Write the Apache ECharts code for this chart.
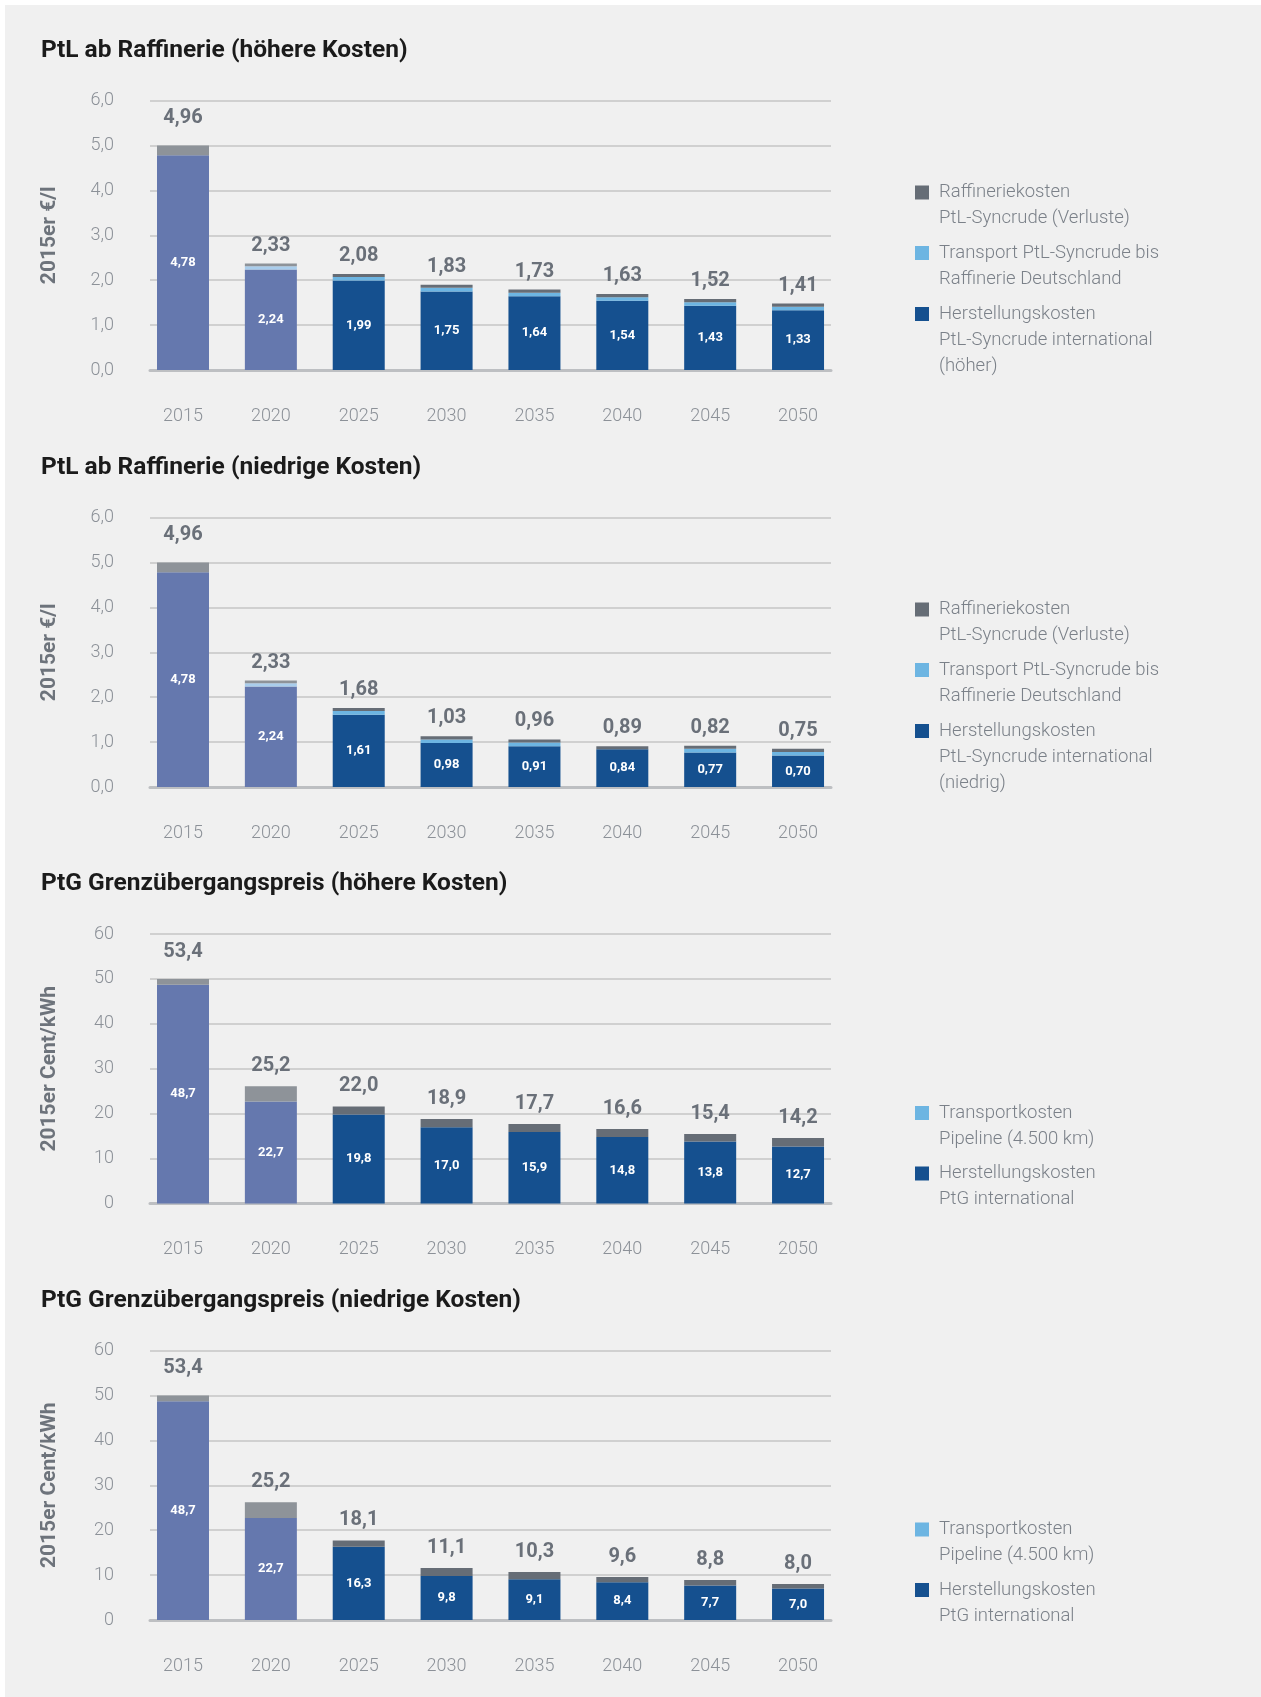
<!DOCTYPE html>
<html>
<head>
<meta charset="utf-8">
<script src="https://cdn.jsdelivr.net/npm/echarts@6/dist/echarts.min.js"></script>
<style>
html,body{margin:0;padding:0;background:#ffffff;}
#bg{position:absolute;left:5px;top:5px;width:1256px;height:1692px;background:#f0f0f0;}
#chart{position:absolute;left:0;top:0;width:1261px;height:1697px;}
</style>
</head>
<body>
<div id="bg"></div>
<div id="chart"></div>
<script>
// ---------- DATA ----------
const years = ['2015', '2020', '2025', '2030', '2035', '2040', '2045', '2050'];

// Chart 1: PtL ab Raffinerie (höhere Kosten), 2015er €/l
const ptlHighBase      = [4.78, 2.24, 1.99, 1.75, 1.64, 1.54, 1.43, 1.33];
const ptlHighTransport = [0.00, 0.07, 0.08, 0.08, 0.08, 0.08, 0.08, 0.08];
const ptlHighRefinery  = [0.22, 0.06, 0.07, 0.07, 0.07, 0.07, 0.07, 0.07];
const ptlHighTotal     = [4.96, 2.33, 2.08, 1.83, 1.73, 1.63, 1.52, 1.41];

// Chart 2: PtL ab Raffinerie (niedrige Kosten), 2015er €/l
const ptlLowBase      = [4.78, 2.24, 1.61, 0.98, 0.91, 0.84, 0.77, 0.70];
const ptlLowTransport = [0.00, 0.07, 0.08, 0.08, 0.08, 0.00, 0.08, 0.08];
const ptlLowRefinery  = [0.22, 0.06, 0.07, 0.07, 0.07, 0.07, 0.07, 0.07];
const ptlLowTotal     = [4.96, 2.33, 1.68, 1.03, 0.96, 0.89, 0.82, 0.75];

// Chart 3: PtG Grenzübergangspreis (höhere Kosten), 2015er Cent/kWh
const ptgHighBase      = [48.7, 22.7, 19.8, 17.0, 15.9, 14.8, 13.8, 12.7];
const ptgHighTransport = [1.3, 3.4, 1.8, 1.8, 1.8, 1.8, 1.7, 1.9];
const ptgHighTotal     = [53.4, 25.2, 22.0, 18.9, 17.7, 16.6, 15.4, 14.2];

// Chart 4: PtG Grenzübergangspreis (niedrige Kosten), 2015er Cent/kWh
const ptgLowBase      = [48.7, 22.7, 16.3, 9.8, 9.1, 8.4, 7.7, 7.0];
const ptgLowTransport = [1.3, 3.5, 1.4, 1.8, 1.6, 1.2, 1.2, 1.0];
const ptgLowTotal     = [53.4, 25.2, 18.1, 11.1, 10.3, 9.6, 8.8, 8.0];

const titles = [
  'PtL ab Raffinerie (höhere Kosten)',
  'PtL ab Raffinerie (niedrige Kosten)',
  'PtG Grenzübergangspreis (höhere Kosten)',
  'PtG Grenzübergangspreis (niedrige Kosten)'
];
const yNames = ['2015er €/l', '2015er €/l', '2015er Cent/kWh', '2015er Cent/kWh'];

const legendPtlHigh = [
  ['Raffineriekosten', 'PtL-Syncrude (Verluste)'],
  ['Transport PtL-Syncrude bis', 'Raffinerie Deutschland'],
  ['Herstellungskosten', 'PtL-Syncrude international', '(höher)']
];
const legendPtlLow = [
  ['Raffineriekosten', 'PtL-Syncrude (Verluste)'],
  ['Transport PtL-Syncrude bis', 'Raffinerie Deutschland'],
  ['Herstellungskosten', 'PtL-Syncrude international', '(niedrig)']
];
const legendPtg = [
  ['Transportkosten', 'Pipeline (4.500 km)'],
  ['Herstellungskosten', 'PtG international']
];

// ---------- STYLE ----------
const C = {
  baseOld: '#6578ae', baseNew: '#15508f',
  transOld: '#a9cdec', transNew: '#6db5e2',
  refOld: '#8e9399', refNew: '#666d76',
  grid: '#d0d0d0', axis: '#bdbfc2', tick: '#8c9198',
  total: '#6a7079', legend: '#7b8189', yname: '#6d737b', title: '#1b1b1b'
};
const FONT = 'Roboto, "Liberation Sans", sans-serif';
const fmt = (v, d) => v.toFixed(d).replace('.', ',');

const y0s = [370, 787, 1203.5, 1620];
const H = 269.5;

const option = {
  animation: false,
  backgroundColor: 'transparent',
  title: [], grid: [], xAxis: [], yAxis: [], series: [], graphic: []
};

function addChart(k, cfg) {
  const y0 = y0s[k];
  const top = y0 - H;
  option.title.push({
    text: titles[k], left: 41, top: y0 - 321 - 11, padding: 0,
    textStyle: { fontFamily: FONT, fontWeight: 'bold', fontSize: 24.5, color: C.title }
  });
  // grid A: gridlines, y labels, baseline
  option.grid.push({ left: 150, width: 681, top: top, height: H, outerBoundsMode: 'none' });
  // grid B: bars and year labels
  option.grid.push({ left: 139.07, width: 702.9, top: top, height: H, outerBoundsMode: 'none' });
  const ga = 2 * k, gb = 2 * k + 1;
  option.xAxis.push({
    gridIndex: ga, type: 'category', data: years,
    axisLine: { show: true, lineStyle: { color: C.axis, width: 3 } },
    axisTick: { show: false }, axisLabel: { show: false }, splitLine: { show: false }
  });
  option.xAxis.push({
    gridIndex: gb, type: 'category', data: years,
    axisLine: { show: false }, axisTick: { show: false },
    axisLabel: { margin: 37, color: C.tick, fontFamily: FONT, fontWeight: 300, fontSize: 18 }
  });
  option.yAxis.push({
    gridIndex: ga, type: 'value', min: 0, max: cfg.max, interval: cfg.interval,
    name: yNames[k], nameLocation: 'middle', nameRotate: 90, nameGap: 90,
    nameTextStyle: { fontFamily: FONT, fontWeight: 'bold', fontSize: 21, color: C.yname },
    axisLine: { show: false }, axisTick: { show: false },
    axisLabel: { margin: 36, color: C.tick, fontFamily: FONT, fontWeight: 300, fontSize: 18,
      formatter: v => fmt(v, cfg.tickDec) },
    splitLine: { show: true, lineStyle: { color: C.grid, width: 2 } }
  });
  option.yAxis.push({
    gridIndex: gb, type: 'value', min: 0, max: cfg.max, interval: cfg.interval, show: false,
    splitLine: { show: false }
  });
  const stack = 's' + k;
  const last = cfg.series.length - 1;
  cfg.series.forEach((s, si) => {
    const data = s.data.map((v, i) => {
      const item = { value: v, itemStyle: { color: i < 2 ? s.oldC : s.newC } };
      if (si === last) item.label = { distance: i === 0 ? 17 : cfg.labelDist };
      return item;
    });
    const ser = {
      type: 'bar', name: s.name, stack: stack, xAxisIndex: gb, yAxisIndex: gb,
      barWidth: 52, data: data,
      itemStyle: { color: s.legendC },
      emphasis: { disabled: true }
    };
    if (si === 0) {
      ser.label = {
        show: true, position: 'inside', color: '#ffffff', fontFamily: FONT,
        fontWeight: 'bold', fontSize: 13,
        formatter: p => fmt(cfg.series[0].data[p.dataIndex], cfg.valDec)
      };
    }
    if (si === last) {
      ser.label = {
        show: true, position: 'top', distance: cfg.labelDist, color: C.total, fontFamily: FONT,
        fontWeight: 'bold', fontSize: 20,
        formatter: p => fmt(cfg.totals[p.dataIndex], cfg.valDec)
      };
    }
    option.series.push(ser);
  });
  // legend (drawn as graphic)
  cfg.legend.forEach((it, i) => {
    const cy = y0 + cfg.legendY[i] + 2.5;
    option.graphic.push({
      type: 'rect', left: 915, top: cy - 7, shape: { width: 14, height: 14 },
      style: { fill: it.color }, silent: true
    });
    option.graphic.push({
      type: 'text', x: 939, y: cy - 13, silent: true,
      style: { text: it.lines.join('\n'), fill: C.legend, font: '300 18.5px ' + FONT,
        lineHeight: 26, verticalAlign: 'top', align: 'left' }
    });
  });
}

addChart(0, {
  max: 6, interval: 1, tickDec: 1, valDec: 2, totals: ptlHighTotal, labelDist: 8,
  series: [
    { name: 'Herstellungskosten', data: ptlHighBase, oldC: C.baseOld, newC: C.baseNew, legendC: C.baseNew },
    { name: 'Transport', data: ptlHighTransport, oldC: C.transOld, newC: C.transNew, legendC: C.transNew },
    { name: 'Raffineriekosten', data: ptlHighRefinery, oldC: C.refOld, newC: C.refNew, legendC: C.refNew }
  ],
  legend: [
    { color: C.refNew, lines: legendPtlHigh[0] },
    { color: C.transNew, lines: legendPtlHigh[1] },
    { color: C.baseNew, lines: legendPtlHigh[2] }
  ],
  legendY: [-180, -119.5, -58.5]
});
addChart(1, {
  max: 6, interval: 1, tickDec: 1, valDec: 2, totals: ptlLowTotal, labelDist: 8,
  series: [
    { name: 'Herstellungskosten', data: ptlLowBase, oldC: C.baseOld, newC: C.baseNew, legendC: C.baseNew },
    { name: 'Transport', data: ptlLowTransport, oldC: C.transOld, newC: C.transNew, legendC: C.transNew },
    { name: 'Raffineriekosten', data: ptlLowRefinery, oldC: C.refOld, newC: C.refNew, legendC: C.refNew }
  ],
  legend: [
    { color: C.refNew, lines: legendPtlLow[0] },
    { color: C.transNew, lines: legendPtlLow[1] },
    { color: C.baseNew, lines: legendPtlLow[2] }
  ],
  legendY: [-180, -119.5, -58.5]
});
addChart(2, {
  max: 60, interval: 10, tickDec: 0, valDec: 1, totals: ptgHighTotal, labelDist: 10,
  series: [
    { name: 'Herstellungskosten PtG', data: ptgHighBase, oldC: C.baseOld, newC: C.baseNew, legendC: C.baseNew },
    { name: 'Transportkosten Pipeline', data: ptgHighTransport, oldC: C.refOld, newC: C.refNew, legendC: C.transNew }
  ],
  legend: [
    { color: C.transNew, lines: legendPtg[0] },
    { color: C.baseNew, lines: legendPtg[1] }
  ],
  legendY: [-93, -32.5]
});
addChart(3, {
  max: 60, interval: 10, tickDec: 0, valDec: 1, totals: ptgLowTotal, labelDist: 10,
  series: [
    { name: 'Herstellungskosten PtG', data: ptgLowBase, oldC: C.baseOld, newC: C.baseNew, legendC: C.baseNew },
    { name: 'Transportkosten Pipeline', data: ptgLowTransport, oldC: C.refOld, newC: C.refNew, legendC: C.transNew }
  ],
  legend: [
    { color: C.transNew, lines: legendPtg[0] },
    { color: C.baseNew, lines: legendPtg[1] }
  ],
  legendY: [-93, -32.5]
});

const chart = echarts.init(document.getElementById('chart'), null, { renderer: 'canvas' });
chart.setOption(option);
</script>
</body>
</html>
